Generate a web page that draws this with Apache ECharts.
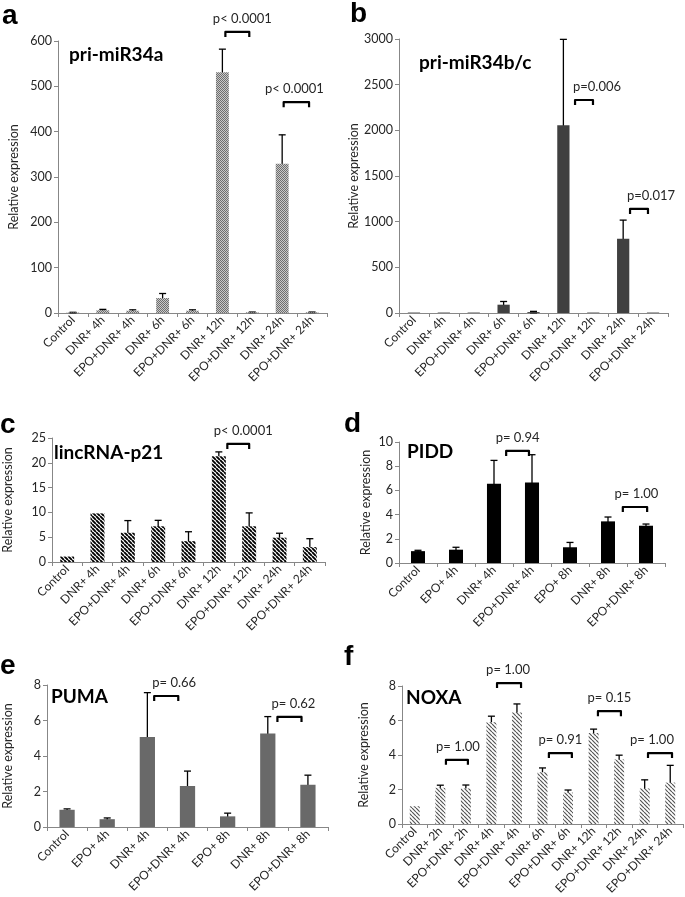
<!DOCTYPE html>
<html><head><meta charset="utf-8">
<script src="https://cdn.jsdelivr.net/npm/echarts@6/dist/echarts.min.js"></script>
<style>html,body{margin:0;padding:0;background:#fff}#c{width:685px;height:897px}</style>
</head><body><div id="c"></div>
<script>
// ---------- DATA ----------
const catsTime = ['Control','DNR+ 4h','EPO+DNR+ 4h','DNR+ 6h','EPO+DNR+ 6h','DNR+ 12h','EPO+DNR+ 12h','DNR+ 24h','EPO+DNR+ 24h'];
const catsEpo = ['Control','EPO+ 4h','DNR+ 4h','EPO+DNR+ 4h','EPO+ 8h','DNR+ 8h','EPO+DNR+ 8h'];
const catsNoxa = ['Control','DNR+ 2h','EPO+DNR+ 2h','DNR+ 4h','EPO+DNR+ 4h','DNR+ 6h','EPO+DNR+ 6h','DNR+ 12h','EPO+DNR+ 12h','DNR+ 24h','EPO+DNR+ 24h'];

const miR34aVal = [1, 6, 5, 33, 5, 531, 1.5, 329, 1.5];
const miR34aErr = [0.5, 2, 2, 10, 2, 51, 0.5, 64, 0.5];
const miR34bcVal = [5, 5, 5, 91, 10, 2056, 5, 812, 5];
const miR34bcErr = [0, 0, 0, 35, 8, 940, 0, 205, 0];
const lincVal = [1.1, 9.8, 5.9, 7.2, 4.2, 21.3, 7.2, 4.9, 3.0];
const lincErr = [0, 0, 2.45, 1.2, 1.9, 0.9, 2.7, 0.9, 1.7];
const piddVal = [0.98, 1.1, 6.55, 6.65, 1.3, 3.44, 3.08];
const piddErr = [0.07, 0.2, 1.93, 2.3, 0.4, 0.36, 0.14];
const pumaVal = [0.97, 0.44, 5.07, 2.31, 0.6, 5.27, 2.38];
const pumaErr = [0.05, 0.07, 2.5, 0.84, 0.18, 0.95, 0.54];
const noxaVal = [1.03, 2.1, 2.06, 5.9, 6.46, 3.0, 1.82, 5.28, 3.74, 2.06, 2.4];
const noxaErr = [0, 0.15, 0.2, 0.35, 0.5, 0.25, 0.15, 0.22, 0.25, 0.5, 1.0];

const yMax = [600, 3000, 25, 10, 8, 8];
const yStep = [100, 500, 5, 2, 2, 2];
const panelLetters = ['a','b','c','d','e','f'];
const geneNames = ['pri-miR34a','pri-miR34b/c','lincRNA-p21','PIDD','PUMA','NOXA'];

// p-value brackets: [from category pos, to category pos, height (data units), text]
const pA = [[5.1, 5.9, 620, 'p< 0.0001'], [7.05, 7.9, 465, 'p< 0.0001']];
const pB = [[5.39, 5.99, 2332, 'p=0.006'], [7.23, 7.83, 1139, 'p=0.017']];
const pC = [[5.28, 6.0, 23.8, 'p< 0.0001']];
const pD = [[2.32, 2.92, 9.26, 'p= 0.94'], [5.39, 6.03, 4.63, 'p= 1.00']];
const pE = [[2.17, 2.77, 7.38, 'p= 0.66'], [5.24, 5.84, 6.2, 'p= 0.62']];
const pF = [[1.22, 2.08, 3.72, 'p= 1.00'], [3.22, 4.16, 8.17, 'p= 1.00'], [5.25, 6.15, 4.11, 'p= 0.91'], [7.17, 8.07, 6.54, 'p= 0.15'], [9.13, 10.07, 4.11, 'p= 1.00']];

// ---------- STYLE ----------
// horizontal text offsets (px) of each p-label relative to its bracket centre
const pTextDx = [[5,-2],[13,12],[5],[0,1.5],[8,4],[1,-1,0,0,-8]];

function patternChecker(){
  const c=document.createElement('canvas'); c.width=c.height=2;
  const g=c.getContext('2d');
  g.fillStyle='#c9c9c9'; g.fillRect(0,0,2,2);
  g.fillStyle='#6e6e6e'; g.fillRect(0,0,1,1); g.fillRect(1,1,1,1);
  return c;
}
function patternHatch(color, lw, size){
  const c=document.createElement('canvas'); c.width=c.height=size;
  const g=c.getContext('2d');
  g.fillStyle='#ffffff'; g.fillRect(0,0,size,size);
  g.strokeStyle=color; g.lineWidth=lw; g.beginPath();
  for (const k of [-size,0,size]) { g.moveTo(k,0); g.lineTo(k+size,size); }
  g.stroke();
  return c;
}
const fills = [
  {image: patternChecker(), repeat:'repeat'},
  '#404040',
  {image: patternHatch('#000', 1.9, 4), repeat:'repeat'},
  '#000000',
  '#696969',
  {image: patternHatch('#555', 1.2, 4), repeat:'repeat'}
];
const grids = [
  {left:58, top:41, width:269, height:272},
  {left:399, top:39, width:269, height:274},
  {left:51, top:438, width:274, height:124},
  {left:399, top:442, width:266, height:121},
  {left:45, top:685, width:283, height:142},
  {left:402, top:686, width:281, height:142}
];
const nameGaps = [38, 36, 38, 27, 33, 32];
const barW = ['43%','41%','46%','37%','38%','39%'];
const letterPos = [[2,2],[350,0],[0,411],[344,410],[0,652],[344,643]];
const genePos = [[69,45],[419,53],[54,443],[407,442],[51,687],[406,688]];

const cats = [catsTime, catsTime, catsTime, catsEpo, catsEpo, catsNoxa];
const vals = [miR34aVal, miR34bcVal, lincVal, piddVal, pumaVal, noxaVal];
const errs = [miR34aErr, miR34bcErr, lincErr, piddErr, pumaErr, noxaErr];
const pvals = [pA, pB, pC, pD, pE, pF];

const axisGrey = '#878787';
const txt = '#262626';
const FONT = 'Lato, "Open Sans", sans-serif';

const option = {
  animation:false,
  backgroundColor:'#fff',
  grid: grids,
  xAxis: grids.map((g,i)=>({
    gridIndex:i, type:'category', data:cats[i],
    axisLine:{lineStyle:{color:axisGrey, width:1}},
    axisTick:{show:true, length:4, lineStyle:{color:axisGrey}},
    axisLabel:{rotate:45, interval:0, fontSize:12, color:txt, fontFamily:FONT, margin:5}
  })),
  yAxis: grids.map((g,i)=>({
    gridIndex:i, type:'value', min:0, max:yMax[i], interval:yStep[i],
    axisLine:{show:true, lineStyle:{color:axisGrey, width:1}},
    axisTick:{show:true, length:4, lineStyle:{color:axisGrey}},
    splitLine:{show:false},
    axisLabel:{fontSize:12.5, color:txt, fontFamily:FONT, margin:6, formatter:(v)=>String(v)},
    name:'Relative expression', nameLocation:'middle', nameGap:nameGaps[i],
    nameTextStyle:{fontSize:12.5, color:txt, fontFamily:FONT}
  })),
  series: [],
  graphic: []
};

for (let i=0;i<6;i++){
  option.series.push({
    type:'bar', xAxisIndex:i, yAxisIndex:i, data:vals[i], barWidth:barW[i],
    itemStyle:{color:fills[i]}, silent:true
  });
  const e = errs[i], v = vals[i];
  option.series.push({
    type:'custom', xAxisIndex:i, yAxisIndex:i, clip:false, silent:true,
    data: v.map((val,k)=>[k, val, e[k]]),
    renderItem:(params, api)=>{
      const k = api.value(0), val = api.value(1), er = api.value(2);
      if (!er) return {type:'group', children:[]};
      const hi = api.coord([k, val+er]), lo = api.coord([k, Math.max(0,val-er)]);
      const cw = 3.5, st = {stroke:'#000', lineWidth:1.3};
      return {type:'group', children:[
        {type:'line', shape:{x1:hi[0], y1:hi[1], x2:lo[0], y2:lo[1]}, style:st},
        {type:'line', shape:{x1:hi[0]-cw, y1:hi[1], x2:hi[0]+cw, y2:hi[1]}, style:st},
        {type:'line', shape:{x1:lo[0]-cw, y1:lo[1], x2:lo[0]+cw, y2:lo[1]}, style:st}
      ]};
    }
  });
  const pv = pvals[i], dxs = pTextDx[i];
  option.series.push({
    type:'custom', xAxisIndex:i, yAxisIndex:i, clip:false, silent:true,
    data: pv.map(p=>[0, p[2]]),
    renderItem:(params, api)=>{
      const p = pv[params.dataIndex];
      const base = api.coord([0, p[2]]);
      const cw = api.size([1,0])[0];
      const x1 = base[0] + p[0]*cw, x2 = base[0] + p[1]*cw, y = base[1];
      return {type:'group', children:[
        {type:'polyline', shape:{points:[[x1,y+5],[x1,y],[x2,y],[x2,y+5]]},
          style:{stroke:'#000', lineWidth:2.2, fill:null, lineJoin:'round'}},
        {type:'text', style:{text:p[3], x:(x1+x2)/2+dxs[params.dataIndex], y:y-13, align:'center', verticalAlign:'middle',
          fill:txt, font:'13px '+FONT}}
      ]};
    }
  });
  option.graphic.push({type:'text', left:letterPos[i][0], top:letterPos[i][1],
    style:{text:panelLetters[i], font:'bold 28px "Liberation Sans", Arial, sans-serif', fill:'#000'}});
  option.graphic.push({type:'text', left:genePos[i][0], top:genePos[i][1],
    style:{text:geneNames[i], font:'bold 19px '+FONT, fill:'#000'}});
}

const chart = echarts.init(document.getElementById('c'), null, {renderer:'canvas'});
chart.setOption(option);
</script></body></html>
